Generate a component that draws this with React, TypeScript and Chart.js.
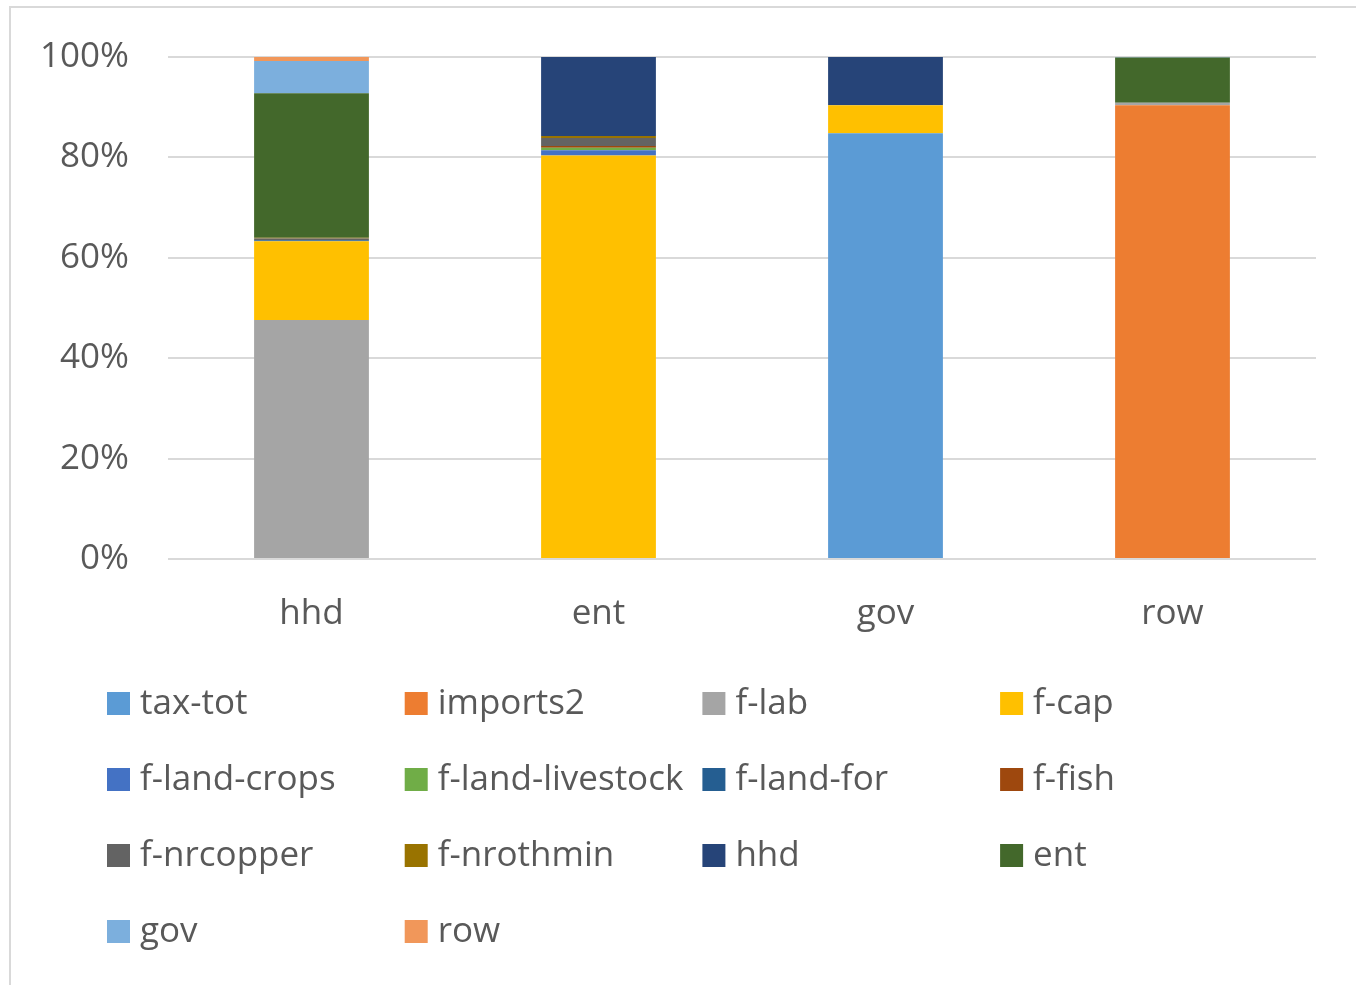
import React, { useEffect, useRef } from "react";
import { Chart, registerables } from "chart.js";

Chart.register(...registerables);

const categories = ["hhd", "ent", "gov", "row"];
const seriesNames = [
  "tax-tot", "imports2", "f-lab", "f-cap", "f-land-crops", "f-land-livestock",
  "f-land-for", "f-fish", "f-nrcopper", "f-nrothmin", "hhd", "ent", "gov", "row",
];
const seriesColors = [
  "#5B9BD5", "#ED7D31", "#A5A5A5", "#FFC000", "#4472C4", "#70AD47",
  "#255E91", "#9E480E", "#636363", "#997300", "#264478", "#43682B", "#7CAFDD", "#F1975A",
];
const taxTot = [0, 0, 84.8, 0];
const imports2 = [0, 0, 0, 90.4];
const fLab = [47.6, 0, 0, 0.5];
const fCap = [15.7, 80.4, 5.6, 0];
const fLandCrops = [0, 1.0, 0, 0];
const fLandLivestock = [0, 0.5, 0, 0];
const fLandFor = [0.2, 0, 0, 0];
const fFish = [0, 0.35, 0, 0];
const fNrcopper = [0.35, 1.6, 0, 0];
const fNrothmin = [0.15, 0.4, 0, 0];
const hhd = [0, 15.75, 9.6, 0];
const ent = [28.8, 0, 0, 9.0];
const gov = [6.4, 0, 0, 0.1];
const row = [0.8, 0, 0, 0];
const seriesValues = [
  taxTot, imports2, fLab, fCap, fLandCrops, fLandLivestock,
  fLandFor, fFish, fNrcopper, fNrothmin, hhd, ent, gov, row,
];
const yTicks = [0, 20, 40, 60, 80, 100];

const FONT = "'Open Sans', sans-serif";
const TEXT = "#595959";
const GRID = "#d9d9d9";

const gridLegend = {
  id: "gridLegend",
  afterDraw(chart: any) {
    const ctx = chart.ctx;
    const x0 = 107;
    const colW = 297.7;
    const y0 = 703.5;
    const rowH = 76;
    const box = 23;
    ctx.save();
    ctx.font = `35px ${FONT}`;
    ctx.textBaseline = "middle";
    ctx.textAlign = "left";
    chart.data.datasets.forEach((ds: any, i: number) => {
      const c = i % 4;
      const r = Math.floor(i / 4);
      const x = x0 + c * colW;
      const y = y0 + r * rowH;
      ctx.fillStyle = ds.backgroundColor;
      ctx.fillRect(x, y - box / 2, box, box);
      ctx.fillStyle = TEXT;
      ctx.fillText(ds.label, x + 33, y + 1);
    });
    ctx.restore();
  },
};

export default function App() {
  const ref = useRef<HTMLCanvasElement>(null);
  useEffect(() => {
    if (!ref.current) return;
    const chart = new Chart(ref.current, {
      type: "bar",
      data: {
        labels: categories,
        datasets: seriesNames.map((name, i) => ({
          label: name,
          data: seriesValues[i],
          backgroundColor: seriesColors[i],
          borderWidth: 0,
          barPercentage: 0.4,
          categoryPercentage: 1.0,
        })),
      },
      options: {
        animation: false,
        responsive: false,
        maintainAspectRatio: false,
        layout: { padding: { left: 0, right: 40, top: 57, bottom: 0 } },
        plugins: { legend: { display: false }, tooltip: { enabled: false } },
        scales: {
          x: {
            stacked: true,
            grid: { display: false, drawTicks: false },
            border: { display: false },
            ticks: { color: TEXT, font: { family: FONT, size: 35 }, padding: 34 },
            afterFit: (s: any) => { s.height = 426; s.paddingLeft = 0; s.paddingRight = 0; },
          },
          y: {
            stacked: true,
            min: 0,
            max: 100,
            afterBuildTicks: (s: any) => { s.ticks = yTicks.map((v) => ({ value: v })); },
            grid: { color: GRID, lineWidth: 2, drawTicks: false },
            border: { display: false },
            ticks: {
              color: TEXT,
              font: { family: FONT, size: 35 },
              padding: 39,
              callback: (v: any) => v + "%",
            },
            afterFit: (s: any) => { s.width = 168; s.paddingTop = 0; s.paddingBottom = 0; },
          },
        },
      },
      plugins: [gridLegend],
    });
    return () => chart.destroy();
  }, []);
  return (
    <div style={{ position: "fixed", left: 0, top: 0, width: 1356, height: 985, overflow: "hidden", background: "#fff" }}>
      <div style={{ position: "absolute", left: 9, top: 6, width: 1400, height: 1000, borderLeft: `2px solid ${GRID}`, borderTop: `2px solid ${GRID}` }} />
      <canvas ref={ref} width={1356} height={985} style={{ position: "absolute", left: 0, top: 0, width: 1356, height: 985 }} />
    </div>
  );
}
